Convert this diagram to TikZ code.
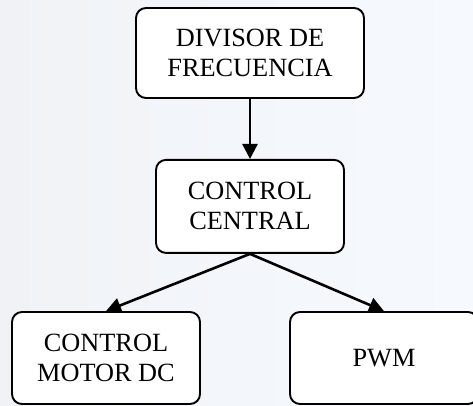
\documentclass[tikz,border=0pt]{standalone}
\usepackage{fontspec}
\setmainfont{Liberation Serif}
\usetikzlibrary{arrows.meta}
\usetikzlibrary{positioning}

\tikzset{
  block/.style={draw, line width=1.9pt, rounded corners=10pt, fill=white,
    align=center, minimum width=188pt, minimum height=92pt, inner sep=0pt,
    font=\fontsize{26.3}{30}\selectfont},
}

\begin{document}
\begin{tikzpicture}[>={Triangle[length=15pt,width=15pt]}, line width=2.6pt, x=1pt, y=1pt]

    % Background
    \useasboundingbox (0,0) rectangle (473,-405);
    \shade[left color={rgb,255:red,240;green,242;blue,246}, right color={rgb,255:red,246;green,250;blue,254}]
        (0,0) rectangle (473,-405);

    % Nodes

    \node[block, minimum width=228pt, minimum height=90pt] (divisor) at (250,-53) {DIVISOR DE\\FRECUENCIA} ; %
    \node[block, below=60pt of divisor, minimum height=93pt] (central) {CONTROL\\CENTRAL} ; %
    \node[block] (motor) at (106,-358) {CONTROL\\MOTOR DC} ; %
    \node[block] (pwm)   at (384,-358) {PWM} ; %

    \draw[->] (divisor) -- (central);
    \draw[->] (central.south) -- (motor.north);
    \draw[->] (central.south) -- (pwm.north);

\end{tikzpicture}
\end{document}
